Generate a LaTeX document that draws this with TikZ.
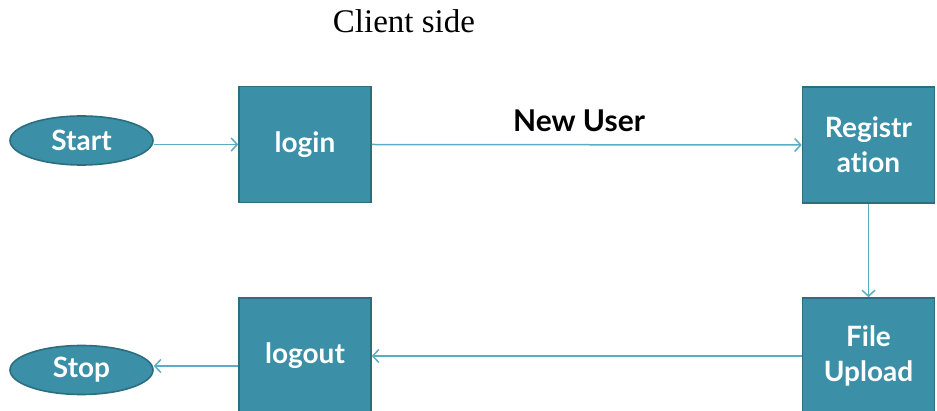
\documentclass[tikz,border=0pt]{standalone}
\usepackage{fontspec}
\setmainfont{Liberation Serif}
\newfontfamily\boxfont[Ligatures={NoCommon,NoRequired,NoContextual}]{Lato}
\usetikzlibrary{shapes.geometric,arrows.meta,calc}

\definecolor{boxfill}{HTML}{3B8FA6}
\definecolor{boxline}{HTML}{2C6E80}
\definecolor{flowline}{HTML}{5AADC2}

\tikzset{
  procbox/.style={rectangle, fill=boxfill, draw=boxline, line width=1.6pt,
    minimum width=132pt, minimum height=116pt, inner sep=0pt,
    text=white, align=center, font=\boxfont\bfseries\fontsize{28}{35}\selectfont},
  termnode/.style={ellipse, fill=boxfill, draw=boxline, line width=1.6pt,
    minimum width=143pt, minimum height=49pt, inner sep=0pt,
    text=white, font=\boxfont\bfseries\fontsize{28}{30}\selectfont},
  flow/.style={draw=flowline, line width=1.5pt,
    -{Straight Barb[length=6pt,width=13pt,line width=1.5pt]}},
}

\begin{document}
\begin{tikzpicture}[x=1pt,y=-1pt]
  \useasboundingbox (0,0) rectangle (937,411);
  \clip (0,0) rectangle (937,411);

  % heading
  \node[anchor=base] (title) at (404,33) {\fontsize{33}{36}\selectfont Client side};

  % terminals
  \node[termnode] (start) at (81.5,140.5) {Start};
  \node[termnode] (stop)  at (81.5,370)   {Stop};

  % process boxes (bottom row runs past the lower edge)
  \node[procbox] (login)  at (305,144.5)  {login};
  \node[procbox] (reg)    at (868.5,145)  {Registr\\ation};
  \node[procbox] (upload) at (868.5,356)  {File\\Upload};
  \node[procbox] (logout) at (305,356)    {logout};

  % connectors
  \draw[flow] (start.east |- login.west) -- (login.west);
  \draw[flow] (login.east) -- (reg.west);
  \node[anchor=base, text=black, font=\boxfont\bfseries\fontsize{30}{32}\selectfont]
    (newuser) at (579,132) {New User};
  \draw[flow] (reg.south) -- (upload.north);
  \draw[flow] (upload.west) -- (logout.east);
  \draw[flow] ([yshift=-10pt]logout.west) -- ([yshift=-10pt]logout.west -| stop.east);
\end{tikzpicture}
\end{document}
